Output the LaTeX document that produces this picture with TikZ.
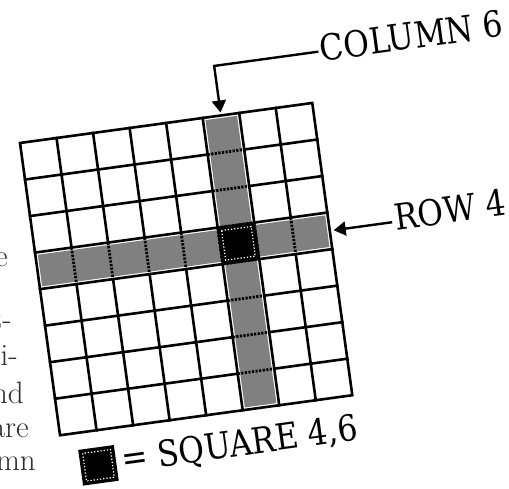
\documentclass[tikz,border=0pt]{standalone}
\usepackage{fontspec}
\newfontfamily\lblfont{DejaVu Serif}
\usetikzlibrary{arrows.meta}
\begin{document}
\begin{tikzpicture}[x=1pt,y=1pt,
  frag/.style={anchor=base east, inner sep=0, text=black!82, font=\fontsize{31}{34}\selectfont},
  lbl/.style={inner sep=0, transform shape, xscale=0.87, font=\lblfont\fontsize{36}{40}\selectfont},
  gridline/.style={line width=2.6pt, line cap=rect},
  dashline/.style={line width=2.8pt, dash pattern=on 2.2pt off 1.4pt},
  stripfill/.style={fill=black!50},
  ring/.style={draw=white, line width=1.2pt, dash pattern=on 1.3pt off 1.9pt},
  leader/.style={line width=2.4pt, -{Triangle[length=12pt,width=14pt]}}
]
\useasboundingbox (0,0) rectangle (509,-489);
\clip (0,0) rectangle (509,-489);
\fill[white] (0,0) rectangle (509,-489);

% cut-off body text at the left margin
\node[frag] (f1) at (8,-267) {e};
\node[frag] (f2) at (12,-330) {t-};
\node[frag] (f3) at (18,-365) {i-};
\node[frag] (f4) at (24,-403) {nd};
\node[frag] (f5) at (29,-437) {are};
\node[frag] (f6) at (36,-470) {mn};

\begin{scope}[shift={(20,-143)}, rotate=7.8]
\def\s{36.875}
% shaded row 4 and column 6
\fill[stripfill] (2.5,-3*\s-2.5) rectangle (8*\s-2.5,-4*\s+2.5);
\fill[stripfill] (5*\s+2.5,-2.5) rectangle (6*\s-2.5,-8*\s+2.5);
% black square 4,6
\fill[black] (5*\s-1,-3*\s+1) rectangle (6*\s+1,-4*\s-1);
\draw[ring] (5*\s+3.5,-3*\s-3.5) rectangle (6*\s-3.5,-4*\s+3.5);
% grid lines
\foreach \i in {1,...,7}{
  \draw[gridline] (\i*\s,0) -- (\i*\s,-3*\s);
  \draw[dashline] (\i*\s,-3*\s) -- (\i*\s,-4*\s);
  \draw[gridline] (\i*\s,-4*\s) -- (\i*\s,-8*\s);
  \draw[gridline] (0,-\i*\s) -- (5*\s,-\i*\s);
  \draw[dashline] (5*\s,-\i*\s) -- (6*\s,-\i*\s);
  \draw[gridline] (6*\s,-\i*\s) -- (8*\s,-\i*\s);
}
\draw[line width=2.6pt, line join=miter] (0,0) rectangle (8*\s,-8*\s);

% labels
\node[lbl, anchor=base west] (col) at (310,40) {COLUMN 6};
\coordinate (colend) at (308,50);
\coordinate (coltip) at (5.5*\s,3);
\draw[leader] (colend) -| (coltip);

\node[lbl, anchor=base west] (row) at (361,-137.5) {ROW 4};
\coordinate (rowend) at (358,-129);
\coordinate (rowtip) at (8*\s+4,-129);
\draw[leader] (rowend) -- (rowtip);

% legend swatch
\fill[black] (16,-312) rectangle (52,-348);
\draw[ring] (20,-316) rectangle (48,-344);
\node[lbl, anchor=base west] (sq) at (58,-340) {= SQUARE 4,6};
\end{scope}
\end{tikzpicture}
\end{document}
